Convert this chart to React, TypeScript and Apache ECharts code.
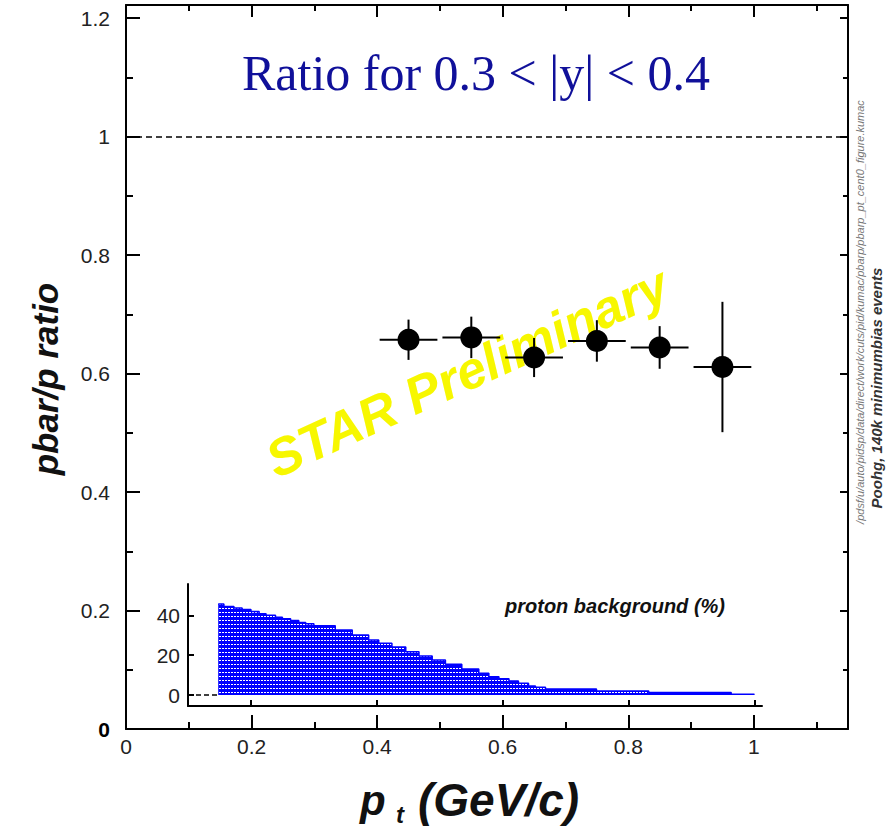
import React, { useEffect, useRef } from "react";
import * as echarts from "echarts";

// ---- main data: pbar/p ratio vs pt ----
const ptCenters = [0.45, 0.55, 0.65, 0.75, 0.85, 0.95];
const ratioValues = [0.657, 0.661, 0.627, 0.655, 0.644, 0.611];
const ratioErrors = [0.034, 0.035, 0.033, 0.035, 0.036, 0.11];
const ptHalfWidths = [0.046, 0.046, 0.046, 0.046, 0.046, 0.046];

// ---- inset: proton background (%) ----
const bgEdges = [
  0.148, 0.157, 0.173, 0.186, 0.2, 0.213, 0.224, 0.239, 0.25, 0.263, 0.276, 0.287,
  0.3, 0.334, 0.361, 0.387, 0.403, 0.424, 0.446, 0.467, 0.488, 0.509, 0.535, 0.562,
  0.578, 0.594, 0.61, 0.625, 0.641, 0.652, 0.668, 0.749, 0.832, 0.963, 1.0,
];
const bgValues = [
  45.7, 44.5, 43.7, 43.0, 42.0, 40.8, 40.1, 39.1, 38.3, 37.4, 36.4, 35.8,
  34.8, 32.7, 30.2, 27.7, 26.0, 24.1, 21.8, 19.6, 17.6, 15.5, 13.1, 10.9,
  9.2, 8.2, 7.1, 5.9, 4.5, 3.9, 3.0, 2.0, 1.3, 0.35, 0.35,
];
const bgZeroLine = [
  [0.1, 0],
  [0.148, 0],
];

// ---- ticks ----
const insetXTicks = [0.2, 0.4, 0.6, 0.8, 1.0];
const insetYTicks = [0, 20, 40];
const referenceLine = 1;

const AX = "#000";
const LBL = "#222";
const SANS = "'Liberation Sans', Arial, sans-serif";

export default function App() {
  const ref = useRef<HTMLDivElement>(null);

  useEffect(() => {
    if (!ref.current) return;
    const chart = echarts.init(ref.current, undefined, { renderer: "svg" });

    const pat = document.createElement("canvas");
    pat.width = 3;
    pat.height = 4;
    const ctx = pat.getContext("2d")!;
    ctx.fillStyle = "#0000ff";
    ctx.fillRect(0, 0, 3, 4);
    ctx.fillStyle = "#ffffff";
    ctx.fillRect(0, 0, 2, 1);

    const mkX = (o: any) => ({
      type: "value",
      gridIndex: 0,
      min: 0,
      max: 1.15,
      splitLine: { show: false },
      axisLine: { show: true, onZero: false, lineStyle: { color: AX, width: 2 } },
      ...o,
    });
    const mkY = (o: any) => ({
      type: "value",
      gridIndex: 0,
      min: 0,
      max: 1.222,
      splitLine: { show: false },
      axisLine: { show: true, onZero: false, lineStyle: { color: AX, width: 2 } },
      ...o,
    });

    const option: any = {
      animation: false,
      backgroundColor: "#fff",
      grid: [
        { left: 126, right: 40, top: 5, bottom: 102 },
        { left: 188, right: 126, top: 584, bottom: 125 },
      ],
      xAxis: [
        mkX({
          position: "bottom",
          interval: 0.2,
          axisTick: { show: true, inside: true, length: 14, lineStyle: { color: AX, width: 2 } },
          axisLabel: {
            show: true,
            margin: 7,
            fontSize: 21,
            color: LBL,
            fontFamily: SANS,
            showMaxLabel: false,
            formatter: (v: number) => (v > 1.01 ? "" : String(+v.toFixed(1))),
          },
        }),
        mkX({
          position: "bottom",
          interval: 0.1,
          axisLine: { show: false, onZero: false },
          axisTick: { show: true, inside: true, length: 7, lineStyle: { color: AX, width: 2 } },
          axisLabel: { show: false },
        }),
        mkX({
          position: "top",
          interval: 0.2,
          axisTick: { show: true, inside: true, length: 12, lineStyle: { color: AX, width: 2 } },
          axisLabel: { show: false },
        }),
        mkX({
          position: "top",
          interval: 0.1,
          axisLine: { show: false, onZero: false },
          axisTick: { show: true, inside: true, length: 6, lineStyle: { color: AX, width: 2 } },
          axisLabel: { show: false },
        }),
        {
          type: "value",
          gridIndex: 1,
          min: 0.1,
          max: 1.012,
          splitLine: { show: false },
          axisLine: { show: true, onZero: false, lineStyle: { color: AX, width: 2 } },
          axisTick: {
            show: true,
            inside: true,
            length: 6,
            customValues: insetXTicks,
            lineStyle: { color: AX, width: 2 },
          },
          axisLabel: { show: false },
        },
      ],
      yAxis: [
        mkY({
          position: "left",
          interval: 0.2,
          axisTick: { show: true, inside: true, length: 14, lineStyle: { color: AX, width: 2 } },
          axisLabel: {
            show: true,
            margin: 16,
            fontSize: 21,
            color: LBL,
            fontFamily: SANS,
            showMaxLabel: false,
            formatter: (v: number) => {
              if (v > 1.21) return "";
              if (Math.abs(v) < 1e-9) return "{b|0}";
              return String(+v.toFixed(1));
            },
            rich: { b: { fontSize: 21, fontWeight: "bold", color: "#000", fontFamily: SANS } },
          },
        }),
        mkY({
          position: "left",
          interval: 0.1,
          axisLine: { show: false, onZero: false },
          axisTick: { show: true, inside: true, length: 7, lineStyle: { color: AX, width: 2 } },
          axisLabel: { show: false },
        }),
        mkY({
          position: "right",
          interval: 0.2,
          axisTick: { show: true, inside: true, length: 8, lineStyle: { color: AX, width: 2 } },
          axisLabel: { show: false },
        }),
        mkY({
          position: "right",
          interval: 0.1,
          axisLine: { show: false, onZero: false },
          axisTick: { show: true, inside: true, length: 5, lineStyle: { color: AX, width: 2 } },
          axisLabel: { show: false },
        }),
        {
          type: "value",
          gridIndex: 1,
          min: -5.5,
          max: 55.8,
          splitLine: { show: false },
          axisLine: { show: true, onZero: false, lineStyle: { color: AX, width: 2 } },
          axisTick: {
            show: true,
            inside: true,
            length: 6,
            customValues: insetYTicks,
            lineStyle: { color: AX, width: 2 },
          },
          axisLabel: {
            show: true,
            margin: 8,
            fontSize: 21,
            color: LBL,
            fontFamily: SANS,
            customValues: insetYTicks,
          },
        },
      ],
      series: [
        {
          type: "custom",
          xAxisIndex: 0,
          yAxisIndex: 0,
          z: 3,
          encode: { x: 0, y: 1 },
          data: ptCenters.map((x, i) => [x, ratioValues[i], ptHalfWidths[i], ratioErrors[i]]),
          renderItem: (_p: any, api: any) => {
            const x = api.value(0);
            const y = api.value(1);
            const ex = api.value(2);
            const ey = api.value(3);
            const l = api.coord([x - ex, y]);
            const r = api.coord([x + ex, y]);
            const t = api.coord([x, y + ey]);
            const b = api.coord([x, y - ey]);
            return {
              type: "group",
              children: [
                {
                  type: "line",
                  shape: { x1: l[0], y1: l[1], x2: r[0], y2: r[1] },
                  style: { stroke: "#000", lineWidth: 2 },
                },
                {
                  type: "line",
                  shape: { x1: t[0], y1: t[1], x2: b[0], y2: b[1] },
                  style: { stroke: "#000", lineWidth: 2 },
                },
              ],
            };
          },
        },
        {
          type: "scatter",
          xAxisIndex: 0,
          yAxisIndex: 0,
          z: 4,
          symbol: "circle",
          symbolSize: 22,
          itemStyle: { color: "#000", opacity: 1 },
          data: ptCenters.map((x, i) => [x, ratioValues[i]]),
          markLine: {
            silent: true,
            symbol: "none",
            label: { show: false },
            lineStyle: { color: "#000", type: [6, 4], width: 1.5, opacity: 1 },
            data: [{ yAxis: referenceLine }],
          },
        },
        {
          type: "line",
          xAxisIndex: 4,
          yAxisIndex: 4,
          step: "end",
          symbol: "none",
          lineStyle: { color: "#0000ff", width: 1.5 },
          areaStyle: { color: { image: pat, repeat: "repeat" }, opacity: 1 },
          data: bgEdges.map((x, i) => [x, bgValues[i]]),
        },
        {
          type: "line",
          xAxisIndex: 4,
          yAxisIndex: 4,
          symbol: "none",
          lineStyle: { color: "#000", width: 1.5, type: [5, 3] },
          data: bgZeroLine,
        },
      ],
      graphic: [
        {
          type: "text",
          z: 0,
          x: 467,
          y: 372,
          rotation: (24.5 * Math.PI) / 180,
          style: {
            text: "STAR Preliminary",
            fill: "#f7f700",
            font: `italic bold 52px ${SANS}`,
            align: "center",
            verticalAlign: "middle",
          },
        },
        {
          type: "text",
          x: 476,
          y: 73,
          style: {
            text: "Ratio for 0.3 < |y| < 0.4",
            fill: "#10109a",
            font: `50px 'Liberation Serif', 'Times New Roman', serif`,
            align: "center",
            verticalAlign: "middle",
          },
        },
        {
          type: "text",
          x: 45,
          y: 379,
          rotation: Math.PI / 2,
          style: {
            text: "pbar/p ratio",
            fill: "#111",
            font: `italic bold 35px ${SANS}`,
            align: "center",
            verticalAlign: "middle",
          },
        },
        {
          type: "text",
          x: 360,
          y: 800,
          style: {
            text: "p",
            fill: "#111",
            font: `italic bold 42px ${SANS}`,
            align: "left",
            verticalAlign: "middle",
          },
        },
        {
          type: "text",
          x: 396,
          y: 814,
          style: {
            text: "t",
            fill: "#111",
            font: `italic bold 24px ${SANS}`,
            align: "left",
            verticalAlign: "middle",
          },
        },
        {
          type: "text",
          x: 418,
          y: 800,
          style: {
            text: "(GeV/c)",
            fill: "#111",
            font: `italic bold 46px ${SANS}`,
            align: "left",
            verticalAlign: "middle",
          },
        },
        {
          type: "text",
          x: 505,
          y: 606,
          style: {
            text: "proton background (%)",
            fill: "#111",
            font: `italic bold 20px ${SANS}`,
            align: "left",
            verticalAlign: "middle",
          },
        },
        {
          type: "text",
          x: 876,
          y: 388,
          rotation: Math.PI / 2,
          style: {
            text: "Poohg, 140k minimumbias events",
            fill: "#333",
            font: `italic bold 15px ${SANS}`,
            align: "center",
            verticalAlign: "middle",
          },
        },
        {
          type: "text",
          x: 860,
          y: 312,
          rotation: Math.PI / 2,
          style: {
            text: "/pdsf/u/auto/pidsp/data/direct/work/cuts/pid/kumac/pbarp/pbarp_pt_cent0_figure.kumac",
            fill: "#777",
            font: `italic 11px ${SANS}`,
            align: "center",
            verticalAlign: "middle",
          },
        },
      ],
    };

    chart.setOption(option);
    return () => chart.dispose();
  }, []);

  return (
    <div
      ref={ref}
      style={{ position: "fixed", left: 0, top: 0, width: 888, height: 831, background: "#fff" }}
    />
  );
}
